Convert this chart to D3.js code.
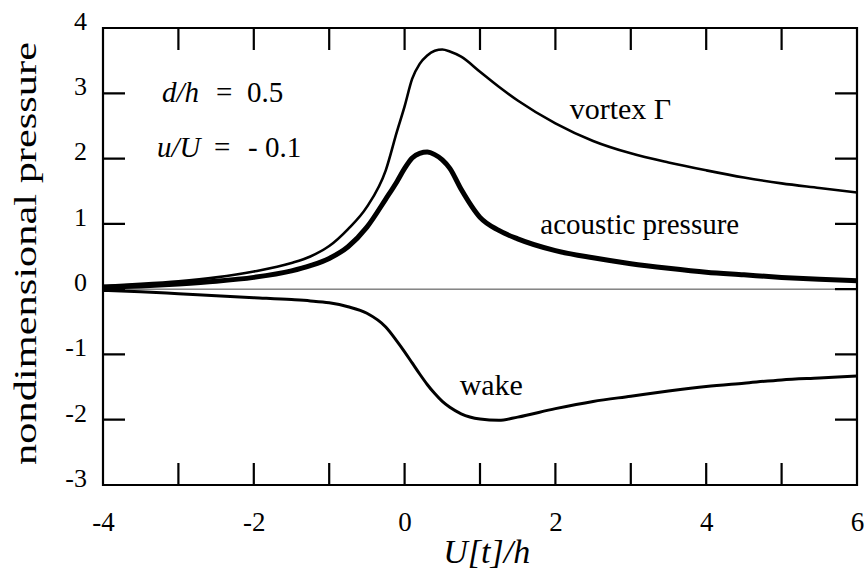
<!DOCTYPE html>
<html>
<head>
<meta charset="utf-8">
<script src="https://cdn.jsdelivr.net/npm/d3@7"></script>
<style>
  body { margin: 0; background: #fff; }
  text { font-family: "Liberation Serif", "DejaVu Serif", serif; fill: #000; }
</style>
</head>
<body>
<svg id="drawing_region"></svg>
<script>
// sample positions along U[t]/h
const xs = [-4, -3.5, -3, -2.5, -2, -1.5, -1.25, -1, -0.75, -0.5, -0.25, -0.1, 0, 0.1, 0.2, 0.3, 0.4, 0.5, 0.6, 0.75, 1, 1.25, 1.5, 2, 2.5, 3, 3.5, 4, 4.5, 5, 5.5, 6];

const vortex = [0.05, 0.08, 0.12, 0.18, 0.27, 0.40, 0.50, 0.66, 0.92, 1.26, 1.82, 2.42, 2.80, 3.22, 3.45, 3.58, 3.65, 3.67, 3.64, 3.56, 3.33, 3.10, 2.89, 2.54, 2.27, 2.08, 1.94, 1.82, 1.71, 1.62, 1.55, 1.48];

const acoustic = [0.03, 0.05, 0.08, 0.12, 0.18, 0.28, 0.36, 0.47, 0.65, 0.95, 1.38, 1.65, 1.85, 2.01, 2.08, 2.10, 2.06, 1.98, 1.85, 1.53, 1.10, 0.90, 0.77, 0.59, 0.48, 0.39, 0.32, 0.26, 0.22, 0.18, 0.15, 0.13];

const wake = [-0.02, -0.04, -0.07, -0.10, -0.13, -0.16, -0.18, -0.21, -0.27, -0.37, -0.58, -0.80, -0.96, -1.13, -1.30, -1.46, -1.60, -1.72, -1.81, -1.91, -1.99, -2.01, -1.96, -1.83, -1.72, -1.64, -1.56, -1.49, -1.44, -1.39, -1.36, -1.33];

const xTicks = [-3, -2, -1, 0, 1, 2, 3, 4, 5];
const xLabels = [-4, -2, 0, 2, 4, 6];
const yTicks = [-2, -1, 0, 1, 2, 3];
const yLabels = [-3, -2, -1, 0, 1, 2, 3, 4];

const config = {
    width: 866,
    height: 578,
    margin: { top: 28, right: 9, bottom: 93, left: 103 }
};

const svg = d3.select('#drawing_region')
    .attr('width', config.width)
    .attr('height', config.height);

const inner_width = config.width - config.margin.left - config.margin.right;
const inner_height = config.height - config.margin.top - config.margin.bottom;

const chart = svg.append('g')
    .attr('transform', `translate(${config.margin.left}, ${config.margin.top})`);

const xscale = d3.scaleLinear().domain([-4, 6]).range([0, inner_width]);
const yscale = d3.scaleLinear().domain([-3, 4]).range([inner_height, 0]);

const minus = d => (d < 0 ? '-' + Math.abs(d) : String(d));
const tickLen = 22;

// zero line
chart.append('line')
    .attr('x1', 0).attr('x2', inner_width)
    .attr('y1', yscale(0)).attr('y2', yscale(0))
    .attr('stroke', '#444').attr('stroke-width', 1);

const curve = d3.line()
    .x(d => xscale(d[0]))
    .y(d => yscale(d[1]))
    .curve(d3.curveMonotoneX);

const series = [
    { values: vortex, width: 2.6 },
    { values: acoustic, width: 5 },
    { values: wake, width: 3 }
];

chart.selectAll('path.curve').data(series).enter()
    .append('path')
    .attr('class', 'curve')
    .attr('fill', 'none')
    .attr('stroke', '#000')
    .attr('stroke-width', d => d.width)
    .attr('stroke-linejoin', 'round')
    .attr('d', d => curve(xs.map((x, i) => [x, d.values[i]])));

// frame and inward ticks on all four sides, drawn as one path
const framePath = d3.path();
framePath.rect(0, 0, inner_width, inner_height);
xTicks.forEach(d => {
    framePath.moveTo(xscale(d), inner_height);
    framePath.lineTo(xscale(d), inner_height - tickLen);
    framePath.moveTo(xscale(d), 0);
    framePath.lineTo(xscale(d), tickLen);
});
yTicks.forEach(d => {
    framePath.moveTo(0, yscale(d));
    framePath.lineTo(tickLen, yscale(d));
    framePath.moveTo(inner_width, yscale(d));
    framePath.lineTo(inner_width - tickLen, yscale(d));
});
chart.append('path')
    .attr('d', framePath.toString())
    .attr('fill', 'none')
    .attr('stroke', '#000')
    .attr('stroke-width', 2.2);

// tick labels
const xLabelAxis = chart.append('g')
    .attr('transform', `translate(0, ${inner_height + 24})`)
    .call(d3.axisBottom(xscale).tickValues(xLabels).tickSize(0).tickFormat(minus));
const yLabelAxis = chart.append('g')
    .attr('transform', 'translate(-13, -7)')
    .call(d3.axisLeft(yscale).tickValues(yLabels).tickSize(0).tickFormat(minus));
xLabelAxis.select('.domain').remove();
yLabelAxis.select('.domain').remove();
xLabelAxis.selectAll('text').style('font-size', '27px').style('font-family', '"Liberation Serif", serif');
yLabelAxis.selectAll('text').style('font-size', '26px').style('font-family', '"Liberation Serif", serif');

// curve labels
chart.append('text').attr('x', xscale(2.19)).attr('y', yscale(2.6)).style('font-size', '30px').text('vortex Γ');
chart.append('text').attr('x', xscale(1.8)).attr('y', yscale(0.84)).style('font-size', '29px').text('acoustic pressure');
chart.append('text').attr('x', xscale(0.73)).attr('y', yscale(-1.62)).style('font-size', '30px').text('wake');

// parameters
const p1 = chart.append('text').attr('y', 74).style('font-size', '29px');
p1.append('tspan').attr('x', 59).style('font-style', 'italic').text('d/h');
p1.append('tspan').attr('x', 113).text('=');
p1.append('tspan').attr('x', 144).text('0.5');
const p2 = chart.append('text').attr('y', 129).style('font-size', '29px');
p2.append('tspan').attr('x', 54).style('font-style', 'italic').text('u/U');
p2.append('tspan').attr('x', 111).text('=');
p2.append('tspan').attr('x', 145).text('- 0.1');

// axis titles
svg.append('text')
    .attr('transform', `translate(36, ${config.margin.top + inner_height / 2 - 3}) rotate(-90)`)
    .attr('text-anchor', 'middle')
    .attr('textLength', 423)
    .attr('lengthAdjust', 'spacingAndGlyphs')
    .style('font-size', '32px')
    .text('nondimensional pressure');

svg.append('text')
    .attr('x', config.margin.left + xscale(1.09))
    .attr('y', 563)
    .attr('text-anchor', 'middle')
    .style('font-size', '34px')
    .style('font-style', 'italic')
    .text('U[t]/h');
</script>
</body>
</html>
